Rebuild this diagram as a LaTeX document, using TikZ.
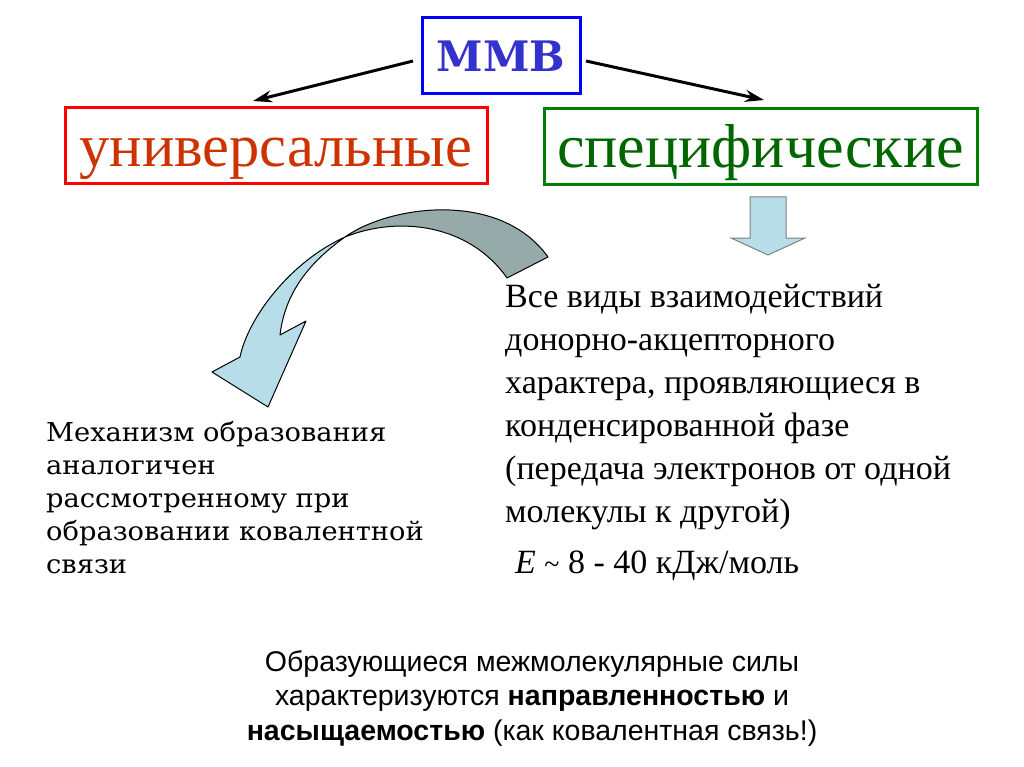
\documentclass[tikz,border=0pt]{standalone}
\usepackage{fontspec}
\setmainfont{Liberation Serif}
\newfontfamily\bookfont[FakeStretch=1.05]{DejaVu Serif}
\newfontfamily\slabfont{DejaVu Serif}
\newfontfamily\arialfont{Liberation Sans}
\usetikzlibrary{arrows.meta}
\definecolor{mmbblue}{RGB}{51,51,204}
\definecolor{boxblue}{RGB}{0,0,255}
\definecolor{unired}{RGB}{204,51,0}
\definecolor{boxred}{RGB}{255,0,0}
\definecolor{specgreen}{RGB}{0,102,0}
\definecolor{boxgreen}{RGB}{0,128,0}
\definecolor{lightblue}{RGB}{183,222,232}
\definecolor{darkteal}{RGB}{150,170,170}
\tikzset{
  hdrbox/.style={draw, line width=3pt, minimum height=76pt, inner sep=0pt},
  hdrtext/.style={text height=50pt, text depth=8pt},
  conn/.style={line width=3pt, -{Stealth[length=19pt,width=12pt]}},
  txt/.style={inner sep=0pt, anchor=base west, align=left},
  ribbon/.style={draw=black, line width=1pt, line join=round},
}
\begin{document}
\begin{tikzpicture}[x=1pt,y=-1pt]
\useasboundingbox (0,0) rectangle (1024,767);
\fill[white] (0,0) rectangle (1024,767);

% header boxes
\node[hdrbox, draw=boxblue, minimum width=158pt, text=mmbblue] (mmb) at (501,56)
  {\slabfont\bfseries\fontsize{42}{42}\selectfont MMB};
\node[hdrbox, hdrtext, draw=boxred, minimum width=422pt, text=unired,
  font=\fontsize{60.5}{60.5}\selectfont] (uni) at (276,146) {универсальные};
\node[hdrbox, hdrtext, draw=boxgreen, minimum width=433pt, text=specgreen,
  font=\fontsize{62}{62}\selectfont] (spec) at (760.5,146.5) {специфические};

% connectors
\coordinate (a1s) at (413,61);
\coordinate (a1e) at (253,101);
\coordinate (a2s) at (586,61);
\coordinate (a2e) at (764,100);
\draw[conn] (a1s) -- (a1e);
\draw[conn] (a2s) -- (a2e);

% down block arrow
\draw[fill=lightblue, draw=gray, line width=1pt]
  (750,197) -- (786,197) -- (786,238) -- (805,238) -- (768,255) -- (731,238) -- (750,238) -- cycle;

% curved twisted arrow
\draw[ribbon, fill=darkteal]
  (345,237) .. controls (390,205) and (500,190) .. (548,257)
  -- (507,278) .. controls (470,225) and (400,215) .. (345,237) -- cycle;
\draw[ribbon, fill=lightblue]
  (345,237) .. controls (290,262) and (248,318) .. (240,357)
  -- (212,372) -- (268,407) -- (306,321) -- (280,335)
  .. controls (285,292) and (310,262) .. (345,237) -- cycle;

% right text (anchored at the baseline of its last line)
\node[txt, font=\fontsize{34}{43}\selectfont] (rtext) at (505,522) {%
Все виды взаимодействий\\
донорно-акцепторного\\
характера, проявляющиеся в\\
конденсированной фазе\\
(передача электронов от одной\\
молекулы к другой)};
\node[txt, font=\fontsize{34}{34}\selectfont] (energy) at (515,573)
  {\textit{E} {\fontsize{28}{28}\selectfont\char"007E} 8 - 40 кДж/моль};

% left text
\node[txt, font=\bookfont\fontsize{26}{33}\selectfont] (ltext) at (46,573) {%
Механизм образования\\
аналогичен\\
рассмотренному при\\
образовании ковалентной\\
связи};

% bottom text
\node[inner sep=0pt, align=center, anchor=base, font=\arialfont\fontsize{28.5}{34.5}\selectfont] (btext) at (532,740) {%
Образующиеся межмолекулярные силы\\
характеризуются \textbf{направленностью} и\\
\textbf{насыщаемостью} (как ковалентная связь!)};
\end{tikzpicture}
\end{document}
